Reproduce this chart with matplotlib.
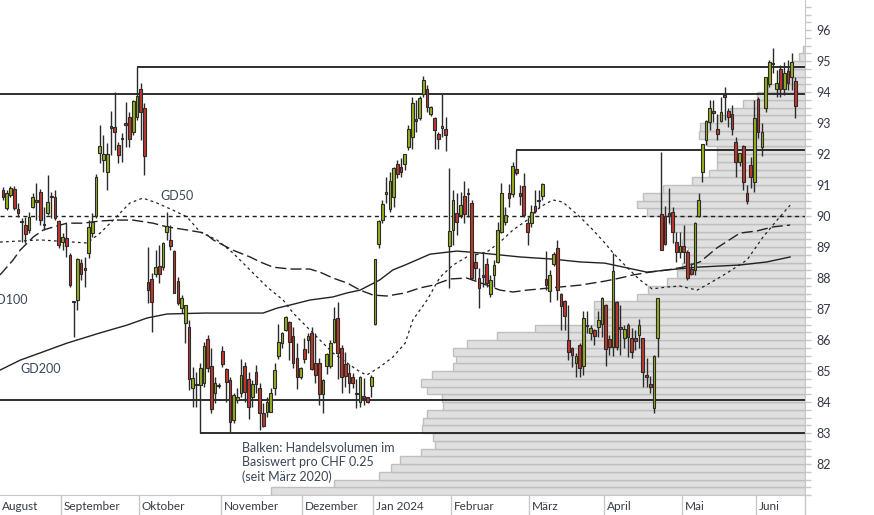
import matplotlib
matplotlib.use("Agg")
import matplotlib.pyplot as plt
import matplotlib.transforms as mtransforms
from matplotlib.ticker import MultipleLocator
import numpy as np

plt.rcParams['font.family'] = ['Lato', 'DejaVu Sans']

# months on the time axis and trading days shown per month
months = ["August", "September", "Oktober", "November", "Dezember", "Jan 2024",
          "Februar", "März", "April", "Mai", "Juni"]
month_days = [16, 21, 22, 22, 19, 21, 21, 20, 21, 20, 11]

# daily candles (CHF)
opens = [90.84, 90.25, 90.68, 90.86, 90.22, 89.84, 89.71, 89.55, 90.30, 90.48,
         90.78, 89.74, 90.09, 90.62, 90.62, 89.84, 89.17, 89.30, 88.74, 87.25,
         87.29, 88.47, 88.29, 88.80, 89.44, 90.00, 92.02, 91.81, 91.43, 92.86,
         92.88, 92.29, 92.49, 92.97, 93.20, 92.72, 93.18, 94.09, 93.47, 87.88,
         87.96, 88.13, 88.39, 88.35, 89.49, 89.23, 88.87, 87.90, 87.02, 86.54,
         86.43, 84.44, 84.56, 84.55, 84.61, 86.02, 85.16, 84.28, 84.53, 85.65,
         85.05, 84.71, 83.42, 84.06, 84.28, 85.16, 84.73, 84.17, 84.96, 84.44,
         83.65, 83.69, 83.69, 84.44, 85.48, 85.90, 86.32, 86.58, 86.13, 85.41,
         84.80, 85.70, 86.00, 86.24, 85.27, 85.27, 84.25, 85.16, 85.16, 85.95,
         86.70, 85.73, 85.23, 84.93, 84.80, 84.27, 84.01, 84.16, 84.15, 84.52,
         86.51, 89.09, 89.87, 90.70, 90.22, 90.62, 91.67, 91.59, 91.67, 92.22,
         92.54, 93.09, 93.15, 93.94, 94.09, 93.28, 93.15, 92.65, 92.83, 92.80,
         89.03, 89.55, 90.09, 90.03, 90.65, 90.72, 90.43, 88.53, 87.99, 88.06,
         88.44, 87.48, 88.10, 88.53, 89.49, 89.82, 90.73, 90.71, 91.51, 90.73,
         90.98, 89.78, 89.76, 90.33, 90.50, 90.65, 87.96, 87.59, 88.45, 88.96,
         87.48, 87.26, 86.00, 85.75, 85.25, 85.84, 85.17, 86.47, 86.22, 86.32,
         86.41, 86.52, 87.13, 86.03, 85.78, 87.24, 86.43, 86.07, 86.48, 86.05,
         86.05, 86.16, 86.05, 84.84, 84.58, 83.80, 86.05, 90.06, 89.99, 90.11,
         90.12, 89.17, 88.85, 89.03, 88.85, 88.28, 88.26, 90.01, 91.41, 92.45,
         93.04, 93.39, 92.80, 93.06, 93.86, 93.39, 93.29, 92.38, 91.75, 92.26,
         90.73, 91.65, 91.11, 93.76, 92.24, 93.47, 94.26, 94.92, 94.09, 94.73,
         94.09, 94.69, 94.49, 94.36]
highs = [90.95, 90.84, 90.97, 90.97, 90.42, 89.93, 89.98, 90.13, 90.74, 91.06,
         90.87, 90.29, 91.32, 90.78, 90.84, 89.87, 89.45, 89.77, 88.81, 87.27,
         88.65, 88.61, 88.69, 89.87, 90.10, 91.35, 92.94, 92.61, 92.35, 93.39,
         94.00, 92.40, 92.68, 93.69, 93.36, 93.74, 94.81, 94.30, 93.64, 89.01,
         88.15, 88.90, 89.06, 89.17, 90.14, 89.71, 88.90, 88.04, 87.45, 87.13,
         86.65, 85.14, 84.97, 85.25, 85.95, 86.16, 85.73, 84.82, 84.62, 85.81,
         85.09, 84.82, 84.28, 84.44, 85.38, 85.30, 84.98, 84.71, 85.19, 84.60,
         83.96, 84.17, 84.44, 85.27, 86.52, 86.27, 86.77, 86.61, 86.43, 85.89,
         85.13, 86.05, 86.24, 86.43, 86.22, 85.41, 84.73, 85.58, 86.00, 87.07,
         87.24, 85.84, 85.62, 85.23, 84.93, 84.73, 84.84, 84.76, 84.17, 84.87,
         88.62, 89.87, 90.52, 91.27, 91.43, 91.59, 91.81, 91.86, 92.00, 92.94,
         93.83, 93.74, 93.87, 94.52, 94.23, 93.56, 93.20, 92.72, 93.93, 93.18,
         91.54, 90.84, 90.73, 90.78, 91.13, 90.89, 90.52, 88.80, 88.31, 88.85,
         88.65, 88.10, 88.58, 89.82, 91.05, 90.30, 91.03, 91.75, 92.13, 91.00,
         91.38, 89.98, 90.35, 90.84, 90.84, 91.05, 88.88, 88.26, 88.85, 89.23,
         87.51, 87.29, 87.13, 85.78, 85.57, 85.89, 86.95, 86.95, 86.48, 86.35,
         86.95, 87.40, 87.16, 86.16, 88.82, 87.26, 87.13, 86.48, 86.54, 86.38,
         86.32, 86.68, 86.05, 85.41, 84.84, 85.51, 87.36, 92.07, 90.32, 90.89,
         90.30, 89.49, 89.49, 89.71, 88.90, 88.47, 89.82, 90.73, 92.32, 93.10,
         93.74, 93.74, 93.29, 93.83, 94.15, 93.47, 93.58, 92.56, 92.02, 92.29,
         91.00, 91.91, 93.74, 93.83, 92.99, 94.49, 95.03, 95.41, 94.71, 94.87,
         94.98, 95.03, 95.25, 94.49]
lows = [90.52, 90.19, 90.61, 90.19, 89.97, 89.17, 89.12, 89.45, 90.26, 89.87,
        89.71, 89.55, 90.03, 89.93, 89.87, 88.97, 88.90, 88.69, 87.71, 86.11,
        86.97, 87.94, 87.72, 88.65, 89.32, 89.94, 91.70, 91.43, 90.84, 91.97,
        92.13, 91.70, 91.75, 92.24, 92.24, 92.60, 93.10, 92.45, 91.32, 87.18,
        86.27, 88.04, 87.83, 88.26, 89.23, 88.90, 87.51, 87.13, 86.86, 85.89,
        84.39, 83.85, 83.85, 83.00, 84.49, 84.98, 83.64, 83.96, 84.45, 85.14,
        84.01, 83.04, 83.33, 83.96, 84.17, 84.01, 83.44, 83.85, 84.28, 83.10,
        83.20, 83.53, 83.67, 84.23, 85.38, 85.75, 86.30, 85.35, 85.09, 84.41,
        84.73, 85.27, 85.57, 85.03, 84.60, 83.90, 83.64, 84.90, 85.09, 85.89,
        84.73, 84.30, 84.49, 84.30, 84.44, 83.80, 83.85, 83.90, 83.96, 84.17,
        86.48, 88.96, 89.76, 90.41, 90.14, 90.30, 91.22, 91.27, 91.48, 92.13,
        92.15, 92.72, 93.10, 93.85, 93.36, 93.22, 92.15, 92.15, 92.56, 92.11,
        87.67, 89.06, 89.39, 89.93, 89.76, 89.98, 87.94, 87.94, 87.02, 87.72,
        87.72, 87.40, 87.72, 88.47, 89.44, 89.71, 90.30, 90.62, 91.32, 90.35,
        89.98, 89.06, 89.65, 90.09, 90.25, 90.52, 87.61, 87.24, 88.39, 87.29,
        86.32, 86.32, 85.35, 85.14, 84.80, 84.82, 84.87, 86.22, 86.00, 85.84,
        86.11, 86.11, 85.16, 85.52, 85.48, 85.68, 85.52, 85.73, 85.46, 85.41,
        85.68, 85.73, 84.49, 84.49, 84.28, 83.64, 85.46, 88.90, 89.06, 89.76,
        89.12, 88.53, 88.64, 88.47, 87.94, 88.10, 88.10, 89.98, 91.11, 92.29,
        92.77, 93.04, 92.45, 93.04, 93.10, 92.86, 92.61, 91.27, 91.61, 90.84,
        90.39, 90.89, 90.78, 92.51, 91.94, 93.36, 94.17, 94.62, 93.85, 93.85,
        93.90, 94.06, 94.06, 93.15]
closes = [90.62, 90.75, 90.89, 90.25, 90.09, 89.80, 89.42, 89.98, 90.62, 90.46,
          89.87, 89.70, 90.46, 90.60, 89.93, 89.06, 89.33, 89.03, 87.77, 87.22,
          88.60, 88.13, 88.26, 89.65, 89.82, 91.25, 92.26, 91.99, 91.99, 92.84,
          92.72, 91.97, 92.47, 92.95, 92.47, 93.71, 93.87, 93.36, 91.95, 87.61,
          87.24, 88.35, 88.13, 89.12, 89.68, 89.04, 87.53, 87.20, 87.36, 87.13,
          84.73, 84.76, 84.54, 85.09, 85.81, 85.09, 83.76, 84.60, 84.51, 85.23,
          84.65, 83.36, 84.23, 84.17, 84.87, 84.33, 83.85, 84.58, 84.58, 83.64,
          83.23, 84.01, 84.28, 85.03, 85.95, 86.22, 86.75, 85.95, 85.27, 84.82,
          85.09, 85.38, 86.13, 85.05, 84.87, 84.25, 84.71, 85.54, 85.89, 86.68,
          85.57, 84.82, 84.84, 84.62, 84.60, 84.25, 84.80, 84.14, 84.01, 84.82,
          88.60, 89.84, 90.38, 90.76, 91.13, 91.54, 91.35, 91.43, 91.99, 92.80,
          93.65, 93.07, 93.80, 94.39, 93.51, 93.51, 92.77, 92.47, 92.90, 92.61,
          89.52, 90.52, 89.82, 90.35, 90.06, 90.70, 87.99, 88.31, 87.67, 88.04,
          87.83, 87.94, 88.42, 89.55, 90.73, 90.03, 90.57, 91.61, 91.38, 90.65,
          90.03, 89.49, 90.14, 90.17, 90.48, 91.02, 87.77, 88.10, 88.77, 87.61,
          87.11, 86.78, 85.62, 85.52, 85.48, 85.11, 86.70, 86.45, 86.38, 86.14,
          86.65, 87.35, 85.70, 85.78, 88.23, 85.78, 86.35, 86.35, 86.11, 85.62,
          85.98, 86.48, 84.98, 84.82, 84.49, 85.49, 87.35, 88.92, 89.09, 90.00,
          89.49, 88.85, 89.03, 88.85, 87.99, 88.13, 89.78, 90.52, 92.32, 93.06,
          93.47, 93.31, 92.64, 93.35, 93.84, 93.18, 92.80, 91.75, 92.02, 91.11,
          90.49, 91.25, 93.15, 92.72, 92.70, 94.47, 94.98, 94.89, 94.28, 94.09,
          94.62, 94.28, 94.98, 93.56]

# moving averages (sampled along the day axis)
gd50_day = [-0.8, 9.9, 22.6, 26.1, 28.8, 31.5, 34.1, 37.6, 41.4, 45.7, 49.5, 53.0,
            57.5, 61.8, 66.4, 71.0, 75.3, 78.0, 81.7, 85.2, 88.7, 92.5, 96.0, 97.8,
            101.3, 104.8, 108.1, 110.2, 114.0, 117.5, 121.0, 124.7, 130.1, 133.6,
            137.1, 140.9, 144.4, 147.8, 150.5, 155.1, 158.6, 161.8, 164.0, 167.7,
            171.2, 174.5, 178.5, 182.0, 186.6, 190.1, 194.6, 200.0, 204.3, 208.1, 211.6]
gd50_val = [89.16, 89.23, 89.13, 89.45, 89.77, 90.10, 90.42, 90.58, 90.42, 90.19,
            89.97, 89.48, 89.23, 88.81, 88.26, 87.71, 87.29, 86.87, 86.42, 86.00,
            85.58, 85.26, 84.97, 84.87, 85.13, 85.45, 85.90, 86.65, 87.29, 88.03,
            88.42, 88.68, 88.84, 89.16, 89.55, 89.87, 90.29, 90.52, 90.45, 89.97,
            89.55, 89.13, 88.81, 88.35, 87.94, 87.65, 87.71, 87.74, 87.61, 87.84,
            88.16, 88.58, 89.32, 89.87, 90.35]
gd100_day = [-0.8, 2.7, 4.6, 8.1, 10.8, 14.5, 17.2, 21.5, 26.1, 30.6, 34.9, 40.3,
             44.1, 49.5, 54.3, 56.5, 61.8, 66.4, 69.1, 72.6, 77.2, 82.5, 85.2, 88.7,
             92.5, 96.0, 99.5, 103.2, 108.1, 112.1, 115.6, 120.2, 124.7, 130.1,
             133.6, 137.1, 140.9, 144.4, 149.7, 155.1, 161.8, 165.9, 169.4, 173.9,
             178.5, 182.8, 187.4, 191.9, 198.1, 202.7, 207.0, 211.6]
gd100_val = [88.10, 88.58, 88.90, 89.32, 89.55, 89.68, 89.77, 89.77, 89.84, 89.87,
             89.87, 89.77, 89.65, 89.55, 89.45, 89.23, 88.90, 88.68, 88.52, 88.35,
             88.29, 88.29, 88.19, 88.00, 87.84, 87.61, 87.45, 87.42, 87.52, 87.68,
             87.77, 87.97, 88.00, 87.77, 87.61, 87.55, 87.61, 87.65, 87.71, 87.77,
             87.90, 88.00, 88.10, 88.19, 88.26, 88.35, 88.52, 88.97, 89.45, 89.52,
             89.65, 89.71]
gd200_day = [-0.8, 4.6, 9.9, 17.2, 26.1, 33.3, 38.7, 44.1, 54.3, 57.5, 69.9, 73.7,
             77.2, 82.5, 88.7, 92.5, 96.0, 101.3, 104.8, 108.1, 114.8, 122.0, 128.2,
             139.0, 147.8, 155.1, 161.8, 173.1, 178.5, 186.6, 198.1, 205.4, 211.6]
gd200_val = [85.03, 85.35, 85.58, 85.90, 86.23, 86.48, 86.71, 86.84, 86.87, 86.87,
             86.87, 87.03, 87.13, 87.29, 87.39, 87.52, 87.61, 87.94, 88.26, 88.42,
             88.77, 88.87, 88.81, 88.68, 88.61, 88.52, 88.48, 88.19, 88.26, 88.35,
             88.42, 88.52, 88.68]

# horizontal price levels: (price, first day index or None for full width)
levels = [(94.81, 36), (93.94, None), (92.13, 138), (84.06, None), (83.00, 53)]
dotted_level = 90.0

# volume profile per CHF 0.25 bin, from 81.00 upwards
vol_bin_low = np.arange(81.0, 95.5, 0.25)
volume = [534, 471, 426, 414, 405, 384, 370, 372, 383, 382, 378, 362, 363, 378,
          384, 373, 352, 349, 352, 338, 308, 270, 211, 211, 211, 168, 157, 138,
          128, 123, 118, 117, 123, 122, 131, 136, 158, 168, 162, 142, 113, 96,
          88, 88, 88, 98, 106, 105, 88, 75, 62, 48, 37, 25, 18, 13, 6, 2]

W, H = 874, 515
fig = plt.figure(figsize=(W / 100, H / 100), dpi=100)
ax = fig.add_axes([0, 20 / H, 805 / W, 495 / H])
xmin, xmax = -0.81, 215.6
ax.set_xlim(xmin, xmax)
ax.set_ylim(81.0, 96.97)

# volume profile on a twin x axis, growing from the right edge
axv = ax.twiny()
axv.barh(vol_bin_low + 0.125, volume, height=0.25, color='#e0e0e0',
         edgecolor='#bfbfbf', linewidth=1.0)
axv.set_xlim(805, 0)
axv.set_xticks([])
for s in axv.spines.values():
    s.set_visible(False)
ax.set_zorder(axv.get_zorder() + 1)
ax.patch.set_visible(False)

o = np.array(opens); h = np.array(highs); l = np.array(lows); c = np.array(closes)
days = np.arange(len(o))
cols = np.where(c >= o, '#98b01c', '#c2382a')
ax.vlines(days, l, h, color='#2b2b2b', lw=1.0, zorder=3)
ax.bar(days, np.maximum(np.abs(c - o), 0.05), bottom=np.minimum(o, c), width=0.72,
       color=cols, edgecolor='#2b2b2b', linewidth=0.8, zorder=4)

ax.plot(gd50_day, gd50_val, color='#222222', lw=0.9, ls=(0, (2.2, 2.6)), zorder=2)
ax.plot(gd100_day, gd100_val, color='#222222', lw=1.0, ls=(0, (8, 3)), zorder=2)
ax.plot(gd200_day, gd200_val, color='#222222', lw=1.0, zorder=2)

for price, start in levels:
    x0 = xmin if start is None else start
    ax.hlines(price, x0, xmax, color='#1e1e1e', lw=1.3, zorder=2)
ax.hlines(dotted_level, xmin, xmax, color='#1e1e1e', lw=1.0, ls=(0, (3, 2.5)), zorder=2)

lab = '#3a4656'
ax.text(42.2, 90.65, 'GD50', color=lab, fontsize=9, va='center', ha='left')
ax.text(6.7, 87.29, 'GD100', color=lab, fontsize=9, va='center', ha='right')
ax.text(4.6, 85.06, 'GD200', color=lab, fontsize=9, va='center', ha='left')
ax.text(64.2, 82.72, 'Balken: Handelsvolumen im\nBasiswert pro CHF 0.25\n(seit März 2020)',
        color=lab, fontsize=9, va='top', ha='left', linespacing=1.25)

# right price axis
ax.yaxis.tick_right()
ax.set_yticks(np.arange(82, 97, 1))
ax.yaxis.set_minor_locator(MultipleLocator(0.25))
ax.tick_params(axis='y', which='both', length=4, width=1, color='#c8c8c8',
               labelsize=9, labelcolor='#333a44', pad=4)
ax.set_xticks([])
for side in ['top', 'left']:
    ax.spines[side].set_visible(False)
ax.spines['right'].set_color('#c8c8c8')
ax.spines['bottom'].set_color('#c8c8c8')

# month separators and labels below the axis
trans = mtransforms.blended_transform_factory(ax.transData, ax.transAxes)
bounds = np.cumsum(month_days)[:-1] - 0.5
for b in list(bounds) + [xmax]:
    ax.plot([b, b], [0, -20 / 495], color='#c8c8c8', lw=1, transform=trans, clip_on=False)
starts = [xmin + 0.55] + [b + 0.75 for b in bounds]
for s, name in zip(starts, months):
    ax.text(s, -12 / 495, name, transform=trans, fontsize=8.5, color='#333a44',
            ha='left', va='center')

fig.savefig('out.png', dpi=100)
